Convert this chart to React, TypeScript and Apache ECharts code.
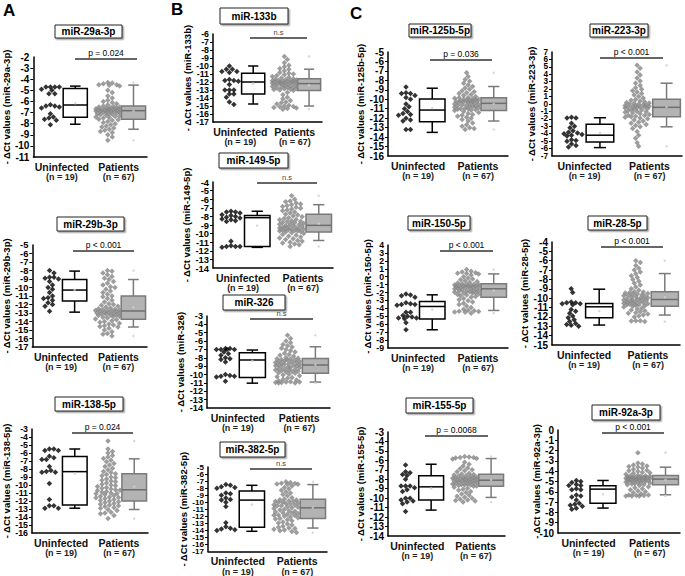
import React, { useEffect, useRef } from 'react';
import * as echarts from 'echarts';

const FONT = '"Liberation Sans", Arial, sans-serif';

const GROUPS = ['Uninfected', 'Patients'];
const GROUP_N = ['(n = 19)', '(n = 67)'];
const MIRNAS = ['miR-29a-3p', 'miR-29b-3p', 'miR-138-5p', 'miR-133b', 'miR-149-5p', 'miR-326', 'miR-382-5p',
  'miR-125b-5p', 'miR-223-3p', 'miR-150-5p', 'miR-28-5p', 'miR-155-5p', 'miR-92a-3p'];
const P_TEXT = ['p = 0.024', 'p < 0.001', 'p = 0.024', 'n.s', 'n.s', 'n.s', 'n.s',
  'p = 0.036', 'p < 0.001', 'p < 0.001', 'p < 0.001', 'p = 0.0068', 'p < 0.001'];
const Y_RANGE = [[-11, -2], [-17, -5], [-16, -3], [-17, -6], [-14, -4], [-14, -3], [-17, -5],
  [-16, -5], [-7, 7], [-9, 4], [-15, -4], [-14, -3], [-10, 0]];

// Uninfected (n = 19)
const u29a = [-4.7, -4.7, -4.7, -4.7, -4.9, -5.0, -5.3, -5.3, -6.3, -6.4, -6.4, -6.5, -6.6, -7.1, -7.4, -7.5, -7.6, -7.7, -8.1];
const u29b = [-8.0, -8.3, -8.8, -8.8, -8.9, -9.0, -9.3, -9.7, -10.0, -10.2, -10.6, -11.0, -11.2, -11.3, -11.5, -11.8, -12.0, -12.2, -12.8];
const u138 = [-5.5, -5.5, -5.7, -5.7, -6.4, -6.6, -6.8, -6.8, -7.7, -8.2, -8.3, -8.4, -8.4, -9.8, -11.8, -12.6, -12.6, -12.9, -12.9];
const u133 = [-10.0, -10.4, -10.4, -10.7, -10.7, -10.8, -11.7, -11.8, -11.8, -11.9, -12.3, -13.0, -13.0, -13.0, -13.5, -13.5, -13.9, -14.5, -14.8];
const u149 = [-7.4, -7.5, -7.5, -7.6, -7.8, -7.9, -8.0, -8.1, -8.2, -8.3, -8.4, -8.5, -8.6, -10.9, -11.4, -11.5, -11.5, -11.5, -11.6];
const u326 = [-6.9, -6.9, -7.0, -7.0, -7.0, -7.0, -7.3, -7.5, -7.7, -8.0, -8.1, -8.2, -8.5, -10.0, -10.1, -10.2, -10.2, -10.3, -10.8];
const u382 = [-7.5, -7.6, -7.8, -7.9, -8.0, -8.7, -8.8, -9.0, -9.4, -9.6, -9.7, -10.0, -10.6, -12.9, -13.5, -13.7, -13.8, -13.9, -14.0];
const u125b = [-8.7, -9.3, -9.4, -9.4, -9.6, -9.8, -10.0, -10.5, -10.8, -11.0, -11.3, -11.5, -11.6, -11.7, -12.0, -12.2, -12.3, -13.2, -13.2];
const u223 = [-1.8, -1.9, -1.9, -2.6, -3.0, -3.2, -3.6, -3.8, -3.9, -4.0, -4.1, -4.2, -4.3, -4.8, -4.9, -5.0, -5.4, -5.6, -5.8];
const u150 = [-2.2, -2.3, -2.4, -2.6, -3.3, -3.4, -3.5, -3.5, -3.6, -4.5, -4.5, -4.9, -5.0, -5.1, -5.2, -5.2, -5.3, -5.8, -6.7];
const u28 = [-9.0, -9.4, -10.4, -10.5, -10.5, -10.6, -10.6, -10.7, -11.2, -11.4, -11.6, -11.9, -12.1, -12.3, -12.5, -12.7, -12.8, -12.9, -13.0];
const u155 = [-6.5, -7.2, -7.3, -7.5, -7.6, -8.0, -8.7, -8.7, -8.7, -8.9, -9.1, -9.3, -10.0, -10.0, -10.2, -10.3, -10.4, -10.6, -11.4];
const u92a = [-4.9, -5.0, -5.1, -5.3, -5.4, -5.4, -5.7, -5.8, -5.8, -6.3, -6.4, -6.5, -6.8, -7.1, -7.2, -7.3, -7.4, -7.6, -7.7];

// Patients (n = 67)
const p29a = [-4.3, -4.35, -4.4, -4.5, -4.5, -4.55, -4.6, -5.0, -5.2, -5.5, -5.7, -5.9, -6.0, -6.1, -6.2, -6.3, -6.4,
  -6.45, -6.5, -6.5, -6.55, -6.6, -6.6, -6.65, -6.7, -6.7, -6.7, -6.75, -6.75, -6.8, -6.8, -6.8, -6.85, -6.85,
  -6.9, -6.9, -6.95, -7.0, -7.0, -7.05, -7.1, -7.1, -7.15, -7.2, -7.25, -7.3, -7.35, -7.4, -7.45, -7.5, -7.6,
  -7.65, -7.7, -7.8, -7.9, -8.0, -8.1, -8.2, -8.3, -8.4, -8.5, -8.6, -8.7, -8.8, -9.0, -9.2, -9.5];
const p29b = [-8.0, -8.1, -8.3, -8.5, -8.7, -8.9, -9.05, -9.3, -9.5, -9.7, -9.9, -10.0, -10.2, -10.4, -10.6, -10.8, -11.0,
  -11.1, -11.3, -11.5, -11.7, -11.9, -12.0, -12.1, -12.2, -12.3, -12.4, -12.5, -12.55, -12.6, -12.65, -12.7, -12.7, -12.75,
  -12.8, -12.85, -12.9, -12.95, -13.0, -13.0, -13.05, -13.1, -13.15, -13.2, -13.25, -13.3, -13.4, -13.45, -13.5, -13.6, -13.7,
  -13.8, -13.9, -14.0, -14.1, -14.2, -14.3, -14.4, -14.5, -14.6, -14.65, -14.8, -15.0, -15.2, -15.4, -15.5, -15.7];
const p138 = [-4.5, -5.5, -5.8, -6.0, -6.3, -6.5, -6.7, -6.9, -7.1, -7.3, -7.5, -7.7, -7.9, -8.1, -8.3, -8.45, -8.6,
  -8.7, -8.85, -9.0, -9.1, -9.25, -9.4, -9.5, -9.6, -9.75, -9.9, -10.0, -10.1, -10.2, -10.3, -10.4, -10.5, -10.6,
  -10.65, -10.7, -10.8, -10.9, -11.0, -11.05, -11.1, -11.2, -11.3, -11.4, -11.5, -11.55, -11.6, -11.7, -11.8, -11.9, -12.0,
  -12.1, -12.2, -12.3, -12.4, -12.5, -12.6, -12.7, -12.8, -12.9, -13.05, -13.2, -13.4, -13.5, -13.6, -13.8, -14.2];
const p133 = [-8.8, -9.2, -9.6, -9.9, -10.1, -10.3, -10.4, -10.6, -10.8, -10.9, -11.0, -11.1, -11.2, -11.3, -11.4, -11.5, -11.6,
  -11.65, -11.7, -11.75, -11.8, -11.8, -11.85, -11.9, -11.9, -11.95, -12.0, -12.0, -12.05, -12.1, -12.1, -12.15, -12.2, -12.2,
  -12.25, -12.3, -12.35, -12.4, -12.45, -12.5, -12.55, -12.6, -12.65, -12.7, -12.75, -12.8, -12.85, -12.9, -12.95, -13.0, -13.05,
  -13.3, -13.6, -13.9, -14.1, -14.3, -14.5, -14.6, -14.75, -14.9, -15.0, -15.05, -15.1, -15.2, -15.25, -15.3, -15.4];
const p149 = [-5.6, -6.0, -6.2, -6.3, -6.45, -6.55, -6.65, -6.75, -6.85, -6.95, -7.05, -7.15, -7.25, -7.35, -7.5, -7.6, -7.75,
  -7.85, -7.95, -8.05, -8.15, -8.25, -8.35, -8.4, -8.5, -8.55, -8.6, -8.7, -8.75, -8.8, -8.85, -8.9, -8.95, -9.05,
  -9.1, -9.15, -9.2, -9.25, -9.3, -9.35, -9.4, -9.45, -9.5, -9.5, -9.55, -9.6, -9.65, -9.7, -9.7, -9.75, -9.8,
  -9.9, -10.0, -10.1, -10.2, -10.3, -10.4, -10.5, -10.6, -10.7, -10.8, -10.9, -11.0, -11.1, -11.2, -11.3, -11.5];
const p326 = [-5.3, -5.7, -6.0, -6.2, -6.4, -6.55, -6.7, -6.85, -7.0, -7.15, -7.3, -7.45, -7.6, -7.7, -7.8, -7.95, -8.05,
  -8.1, -8.15, -8.2, -8.25, -8.3, -8.35, -8.4, -8.45, -8.5, -8.55, -8.6, -8.65, -8.7, -8.75, -8.8, -8.85, -8.9,
  -8.95, -9.0, -9.05, -9.1, -9.15, -9.2, -9.3, -9.35, -9.4, -9.45, -9.5, -9.55, -9.6, -9.65, -9.7, -9.8, -9.85,
  -9.95, -10.05, -10.15, -10.25, -10.35, -10.45, -10.55, -10.65, -10.75, -10.85, -10.9, -10.9, -10.95, -10.95, -11.0, -11.0];
const p382 = [-7.1, -7.2, -7.3, -7.35, -7.4, -7.45, -7.5, -7.7, -7.9, -8.1, -8.3, -8.5, -8.7, -8.9, -9.1, -9.35, -9.55,
  -9.65, -9.7, -9.8, -9.85, -9.9, -10.0, -10.05, -10.1, -10.2, -10.25, -10.35, -10.4, -10.5, -10.55, -10.65, -10.7, -10.8,
  -10.9, -11.0, -11.1, -11.2, -11.3, -11.4, -11.5, -11.55, -11.6, -11.7, -11.8, -11.85, -11.9, -12.0, -12.1, -12.2, -12.3,
  -12.4, -12.5, -12.65, -12.8, -12.95, -13.1, -13.25, -13.4, -13.55, -13.65, -13.75, -13.85, -13.95, -14.05, -14.15, -14.3];
const p125b = [-7.2, -7.6, -7.9, -8.1, -8.3, -8.5, -8.65, -8.8, -8.95, -9.1, -9.2, -9.3, -9.4, -9.5, -9.6, -9.7, -9.8,
  -9.85, -9.9, -9.95, -10.0, -10.0, -10.05, -10.1, -10.1, -10.15, -10.2, -10.2, -10.25, -10.3, -10.3, -10.35, -10.4, -10.45,
  -10.5, -10.55, -10.6, -10.6, -10.65, -10.7, -10.75, -10.8, -10.85, -10.9, -10.95, -11.0, -11.0, -11.05, -11.1, -11.15, -11.2,
  -11.3, -11.4, -11.5, -11.6, -11.7, -11.8, -11.9, -12.0, -12.15, -12.3, -12.5, -12.7, -12.85, -13.0, -13.1, -13.2];
const p223 = [5.2, 4.8, 4.3, 3.9, 3.5, 3.1, 2.8, 2.5, 2.2, 2.0, 1.8, 1.6, 1.4, 1.2, 1.0, 0.8, 0.6,
  0.5, 0.4, 0.3, 0.2, 0.15, 0.1, 0.0, -0.05, -0.1, -0.15, -0.2, -0.25, -0.3, -0.35, -0.4, -0.4, -0.45,
  -0.5, -0.55, -0.6, -0.7, -0.75, -0.8, -0.9, -1.0, -1.05, -1.1, -1.2, -1.3, -1.4, -1.5, -1.55, -1.65, -1.7,
  -1.8, -1.9, -2.0, -2.15, -2.3, -2.45, -2.6, -2.75, -2.9, -3.05, -3.3, -3.7, -4.2, -4.6, -5.2, -5.7];
const p150 = [0.9, 0.7, 0.6, 0.5, 0.45, 0.4, 0.35, 0.2, 0.0, -0.15, -0.3, -0.4, -0.5, -0.6, -0.7, -0.8, -0.9,
  -0.95, -1.0, -1.0, -1.05, -1.1, -1.1, -1.15, -1.2, -1.2, -1.25, -1.3, -1.3, -1.35, -1.4, -1.45, -1.5, -1.55,
  -1.6, -1.65, -1.7, -1.75, -1.8, -1.85, -1.9, -1.95, -2.0, -2.05, -2.1, -2.2, -2.25, -2.3, -2.4, -2.5, -2.6,
  -2.75, -2.9, -3.05, -3.2, -3.35, -3.5, -3.7, -3.9, -4.1, -4.25, -4.3, -4.35, -4.4, -4.45, -4.5, -4.6];
const p28 = [-6.0, -6.2, -6.5, -6.8, -7.0, -7.2, -7.4, -7.6, -7.8, -8.0, -8.2, -8.4, -8.6, -8.8, -9.0, -9.15, -9.3,
  -9.35, -9.4, -9.45, -9.5, -9.55, -9.6, -9.65, -9.7, -9.75, -9.8, -9.85, -9.9, -9.95, -10.0, -10.05, -10.1, -10.15,
  -10.2, -10.2, -10.25, -10.3, -10.35, -10.4, -10.45, -10.5, -10.5, -10.55, -10.6, -10.65, -10.7, -10.7, -10.75, -10.8, -10.85,
  -10.95, -11.05, -11.15, -11.25, -11.35, -11.45, -11.55, -11.6, -11.7, -11.8, -11.9, -12.0, -12.4, -12.4, -12.45, -12.5];
const p155 = [-5.6, -5.65, -5.7, -5.7, -5.75, -5.8, -5.85, -6.2, -6.4, -6.6, -6.8, -6.9, -7.0, -7.1, -7.2, -7.35, -7.45,
  -7.5, -7.55, -7.6, -7.65, -7.7, -7.75, -7.8, -7.8, -7.85, -7.9, -7.9, -7.95, -8.0, -8.0, -8.05, -8.1, -8.1,
  -8.15, -8.2, -8.2, -8.25, -8.3, -8.3, -8.35, -8.4, -8.45, -8.5, -8.5, -8.55, -8.6, -8.6, -8.65, -8.7, -8.75,
  -8.85, -8.95, -9.05, -9.15, -9.3, -9.4, -9.55, -9.7, -9.8, -9.9, -10.0, -10.1, -10.2, -10.25, -10.3, -10.4];
const p92a = [-2.2, -3.2, -3.3, -3.4, -3.5, -3.55, -3.6, -3.7, -3.8, -3.9, -3.95, -4.0, -4.1, -4.15, -4.2, -4.3, -4.4,
  -4.45, -4.45, -4.5, -4.5, -4.55, -4.55, -4.6, -4.6, -4.62, -4.65, -4.65, -4.68, -4.7, -4.7, -4.72, -4.75, -4.77,
  -4.8, -4.8, -4.85, -4.85, -4.9, -4.9, -4.95, -5.0, -5.0, -5.05, -5.1, -5.1, -5.15, -5.2, -5.25, -5.3, -5.32,
  -5.4, -5.5, -5.6, -5.7, -5.8, -5.9, -6.0, -6.1, -6.2, -6.3, -6.3, -6.35, -6.35, -6.4, -6.4, -6.4];

// Box statistics: [lower whisker, Q1, median, Q3, upper whisker]
const b29a_u = [-8.05, -7.42, -6.32, -4.83, -4.62];
const b29a_p = [-8.5, -7.6, -6.83, -6.41, -4.53];
const b29b_u = [-12.9, -11.6, -10.3, -9.06, -8.07];
const b29b_p = [-14.65, -13.74, -12.76, -11.0, -9.06];
const b138_u = [-12.9, -12.5, -8.33, -6.44, -5.5];
const b138_p = [-13.06, -12.0, -10.6, -8.6, -6.73];
const b133_u = [-14.75, -13.5, -12.0, -10.9, -10.0];
const b133_p = [-15.0, -13.05, -12.2, -11.6, -10.4];
const b149_u = [-11.6, -11.5, -8.15, -7.9, -7.4];
const b149_p = [-10.8, -9.8, -9.04, -7.76, -6.64];
const b326_u = [-11.03, -10.36, -8.26, -7.4, -7.07];
const b326_p = [-10.9, -9.85, -8.86, -8.07, -6.68];
const b382_u = [-14.13, -13.54, -9.7, -8.42, -7.6];
const b382_p = [-13.67, -12.3, -10.8, -9.57, -7.5];
const b125b_u = [-13.5, -12.38, -11.14, -9.97, -8.83];
const b125b_p = [-12.3, -11.2, -10.43, -9.83, -8.65];
const b223_u = [-5.87, -5.1, -4.2, -2.71, -1.85];
const b223_p = [-3.07, -1.72, -0.45, 0.63, 2.8];
const b150_u = [-6.7, -5.35, -3.76, -3.13, -2.29];
const b150_p = [-4.26, -2.58, -1.53, -0.9, 0.35];
const b28_u = [-12.87, -12.1, -10.92, -10.56, -9.04];
const b28_p = [-11.8, -10.85, -10.14, -9.32, -7.37];
const b155_u = [-11.26, -10.2, -8.8, -7.64, -6.41];
const b155_p = [-9.92, -8.73, -8.1, -7.46, -5.81];
const b92a_u = [-7.58, -7.1, -5.74, -5.42, -4.9];
const b92a_p = [-6.29, -5.32, -4.77, -4.42, -3.61];

const UNINF = [u29a, u29b, u138, u133, u149, u326, u382, u125b, u223, u150, u28, u155, u92a];
const PAT = [p29a, p29b, p138, p133, p149, p326, p382, p125b, p223, p150, p28, p155, p92a];
const BOX_U = [b29a_u, b29b_u, b138_u, b133_u, b149_u, b326_u, b382_u, b125b_u, b223_u, b150_u, b28_u, b155_u, b92a_u];
const BOX_P = [b29a_p, b29b_p, b138_p, b133_p, b149_p, b326_p, b382_p, b125b_p, b223_p, b150_p, b28_p, b155_p, b92a_p];

// Layout (pixels): grid [left, top, width, height], title box [x, y, w, h], p line [x1, x2, y], y-name gap
const LAYOUT = [
  { g: [32, 57, 115, 100], t: [55, 25, 67, 13], pl: [75, 137, 59], ng: 18 },
  { g: [32, 245, 115, 102], t: [57, 217, 67, 14], pl: [73, 134, 251], ng: 18 },
  { g: [32, 429, 116, 104], t: [55, 397, 68, 14], pl: [72, 133, 433], ng: 18 },
  { g: [213, 34, 109, 88], t: [220, 8, 68, 16], pl: [250, 307, 38], ng: 16 },
  { g: [213, 182, 120, 86], t: [219, 153, 69, 15], pl: [257, 317, 183], ng: 17 },
  { g: [207, 316, 123, 92], t: [223, 295, 62, 15], pl: [250, 313, 319], ng: 16 },
  { g: [208, 467, 119, 87], t: [220, 442, 65, 15], pl: [250, 312, 469], ng: 15 },
  { g: [388, 52, 120, 104], t: [409, 24, 62, 13], pl: [430, 492, 60], ng: 17 },
  { g: [552, 52, 130, 104], t: [590, 24, 58, 13], pl: [600, 663, 58], ng: 11 },
  { g: [388, 245, 120, 103], t: [408, 216, 62, 14], pl: [440, 493, 251], ng: 15 },
  { g: [552, 242, 128, 103], t: [588, 216, 59, 14], pl: [601, 663, 247], ng: 17 },
  { g: [388, 432, 117, 104], t: [406, 398, 67, 15], pl: [425, 488, 436], ng: 18 },
  { g: [558, 430, 122, 103], t: [592, 405, 68, 15], pl: [602, 664, 433], ng: 17 },
];

const X_MAX = 4;
const BOX_X = [[1.05, 1.9], [3.1, 3.95]];
const SWARM_CENTER = [0.6, 2.62];

function swarm(values: number[], center: number, pxX: number, pxY: number, r: number, half: number) {
  const cands: number[] = [0];
  for (let s = 1.5; s <= half; s += 1.5) cands.push(s, -s);
  const placed: number[][] = [];
  const res: number[][] = new Array(values.length);
  const order = values.map((_, i) => i).sort((a, b) => values[b] - values[a]);
  for (const i of order) {
    const yp = -values[i] * pxY;
    let best = 0;
    let bestD = -1;
    for (const c of cands) {
      let md = Infinity;
      for (const p of placed) {
        const d = Math.hypot(p[0] - c, p[1] - yp);
        if (d < md) md = d;
      }
      if (md >= r) { best = c; break; }
      if (md > bestD) { bestD = md; best = c; }
    }
    placed.push([best, yp]);
    res[i] = [center + best / pxX, values[i]];
  }
  return res;
}

function mean(a: number[]) { return a.reduce((s, v) => s + v, 0) / a.length; }

export default function App() {
  const ref = useRef<HTMLDivElement>(null);
  useEffect(() => {
    document.body.style.margin = '0';
    const chart = echarts.init(ref.current!, null, { renderer: 'svg' });
    const grid: any[] = [];
    const xAxis: any[] = [];
    const yAxis: any[] = [];
    const yAxisEnds: any[] = [];
    const series: any[] = [];
    const graphic: any[] = [];

    LAYOUT.forEach((L, i) => {
      const [left, top, width, height] = L.g;
      const [ymin, ymax] = Y_RANGE[i];
      const pxX = width / X_MAX;
      const pxY = height / (ymax - ymin);
      const tickFont = Math.min(10, pxY + 0.8);
      const labelStyle = { fontSize: tickFont, fontWeight: 'bold', color: '#000', margin: 4, fontFamily: FONT, hideOverlap: false };
      grid.push({ left, top, width, height });
      xAxis.push({
        gridIndex: i, type: 'value', min: 0, max: X_MAX, interval: 1,
        axisLine: { show: true, onZero: false, lineStyle: { color: '#000', width: 1.5 } },
        axisTick: { show: false }, splitLine: { show: false },
        axisLabel: {
          margin: 4, color: '#000', fontFamily: FONT, hideOverlap: false,
          formatter: (v: number) => v === 1 ? `{a|${GROUPS[0]}}\n{b|${GROUP_N[0]}}` : v === 3 ? `{a|${GROUPS[1]}}\n{b|${GROUP_N[1]}}` : '',
          rich: {
            a: { fontSize: 10.5, fontWeight: 'bold', color: '#111', lineHeight: 11, fontFamily: FONT },
            b: { fontSize: 9, fontWeight: 'bold', color: '#222', lineHeight: 10, fontFamily: FONT },
          },
        },
      });
      // main axis: line, ticks, interior labels
      yAxis.push({
        gridIndex: i, type: 'value', min: ymin, max: ymax, interval: 1,
        axisLine: { show: true, onZero: false, lineStyle: { color: '#000', width: 1.5 } },
        axisTick: { show: true, length: 3, lineStyle: { color: '#000', width: 1 } },
        splitLine: { show: false },
        axisLabel: { ...labelStyle, showMinLabel: false, showMaxLabel: false },
        name: `- ΔCt values (${MIRNAS[i]})`, nameLocation: 'middle', nameGap: L.ng,
        nameTextStyle: { fontSize: 9.5, fontWeight: 'bold', color: '#000', fontFamily: FONT },
      });
      // companion axis: only the end labels (so that neighbours are not dropped)
      yAxisEnds.push({
        gridIndex: i, type: 'value', min: ymin, max: ymax, interval: 1, position: 'left', offset: 0,
        axisLine: { show: false }, axisTick: { show: false }, splitLine: { show: false },
        axisLabel: {
          ...labelStyle, showMinLabel: true, showMaxLabel: true,
          formatter: (v: number) => (v === ymin || v === ymax ? String(v) : ''),
        },
      });
      series.push({
        type: 'scatter', xAxisIndex: i, yAxisIndex: i, symbol: 'diamond', symbolSize: 5.5,
        itemStyle: { color: '#000' }, silent: true,
        data: swarm(UNINF[i], SWARM_CENTER[0], pxX, pxY, 4, 11),
      });
      series.push({
        type: 'scatter', xAxisIndex: i, yAxisIndex: i, symbol: 'diamond', symbolSize: 5.5,
        itemStyle: { color: '#858585' }, silent: true,
        data: swarm(PAT[i], SWARM_CENTER[1], pxX, pxY, 4, 13),
      });
      series.push({
        type: 'custom', xAxisIndex: i, yAxisIndex: i, silent: true,
        data: [
          [BOX_X[0][0], BOX_X[0][1], ...BOX_U[i], 0],
          [BOX_X[1][0], BOX_X[1][1], ...BOX_P[i], 1],
        ],
        renderItem: (params: any, api: any) => {
          const x0 = api.value(0), x1 = api.value(1);
          const lo = api.coord([x0, api.value(2)]);
          const q1 = api.coord([x0, api.value(3)]);
          const md = api.coord([x0, api.value(4)]);
          const q3 = api.coord([x0, api.value(5)]);
          const hi = api.coord([x0, api.value(6)]);
          const right = api.coord([x1, api.value(4)]);
          const pat = api.value(7) === 1;
          const stroke = pat ? '#7a7a7a' : '#000';
          const medStroke = pat ? '#6e6e6e' : '#000';
          const fill = pat ? '#b3b3b3' : '#fff';
          const xa = lo[0], xb = right[0], xc = (xa + xb) / 2, cw = (xb - xa) * 0.22;
          const ls = { stroke, lineWidth: 1.5 };
          return {
            type: 'group',
            children: [
              { type: 'line', shape: { x1: xc, y1: hi[1], x2: xc, y2: q3[1] }, style: ls },
              { type: 'line', shape: { x1: xc, y1: q1[1], x2: xc, y2: lo[1] }, style: ls },
              { type: 'line', shape: { x1: xc - cw, y1: hi[1], x2: xc + cw, y2: hi[1] }, style: ls },
              { type: 'line', shape: { x1: xc - cw, y1: lo[1], x2: xc + cw, y2: lo[1] }, style: ls },
              { type: 'rect', shape: { x: xa, y: q3[1], width: xb - xa, height: q1[1] - q3[1] }, style: { fill, stroke, lineWidth: 1.5 } },
              { type: 'line', shape: { x1: xa, y1: md[1], x2: xb, y2: md[1] }, style: { stroke: medStroke, lineWidth: 1.5 } },
            ],
          };
        },
      });
      const cu = (BOX_X[0][0] + BOX_X[0][1]) / 2;
      const cp = (BOX_X[1][0] + BOX_X[1][1]) / 2;
      series.push({
        type: 'scatter', xAxisIndex: i, yAxisIndex: i, symbol: 'circle', symbolSize: 2.5, silent: true,
        itemStyle: { color: '#cfcfcf' }, z: 5,
        data: [[cu, mean(UNINF[i])], [cp, mean(PAT[i])], [cp, Math.max(...PAT[i])], [cp, Math.min(...PAT[i])]],
      });

      const [tx, ty, tw, th] = L.t;
      graphic.push({
        type: 'rect', shape: { x: tx, y: ty, width: tw, height: th },
        style: { fill: '#fff', stroke: '#222', lineWidth: 1, shadowColor: 'rgba(0,0,0,0.35)', shadowOffsetX: 1.5, shadowOffsetY: 1.5, shadowBlur: 1 },
      });
      graphic.push({
        type: 'text', x: tx + tw / 2, y: ty + th / 2,
        style: { text: MIRNAS[i], fontSize: 10, fontWeight: 'bold', fill: '#000', align: 'center', verticalAlign: 'middle', fontFamily: FONT },
      });
      const [p1, p2, py] = L.pl;
      graphic.push({ type: 'line', shape: { x1: p1, y1: py, x2: p2, y2: py }, style: { stroke: '#333', lineWidth: 1.3 } });
      const ns = P_TEXT[i] === 'n.s';
      graphic.push({
        type: 'text', x: (p1 + p2) / 2, y: py - 1.5,
        style: { text: P_TEXT[i], fontSize: ns ? 7.5 : 8.5, fill: ns ? '#444' : '#000', align: 'center', verticalAlign: 'bottom', fontFamily: FONT },
      });
    });

    graphic.push({ type: 'text', x: 3, y: 2, style: { text: 'A', fontSize: 17, fontWeight: 'bold', fill: '#000', fontFamily: FONT } });
    graphic.push({ type: 'text', x: 171, y: 1, style: { text: 'B', fontSize: 17, fontWeight: 'bold', fill: '#000', fontFamily: FONT } });
    graphic.push({ type: 'text', x: 350, y: 5, style: { text: 'C', fontSize: 17, fontWeight: 'bold', fill: '#000', fontFamily: FONT } });

    chart.setOption({
      animation: false,
      backgroundColor: '#fff',
      textStyle: { fontFamily: FONT },
      grid, xAxis, yAxis: [...yAxis, ...yAxisEnds], series, graphic,
    });
    return () => chart.dispose();
  }, []);
  return <div ref={ref} style={{ position: 'absolute', left: 0, top: 0, width: 685, height: 576 }} />;
}
